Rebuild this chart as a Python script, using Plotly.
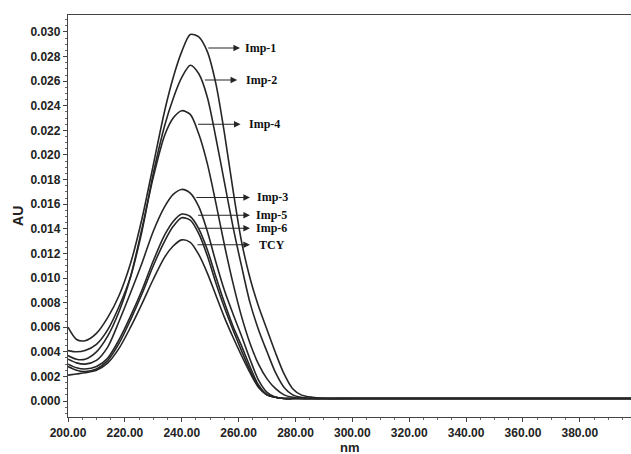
import plotly.graph_objects as go

wavelength = [200, 203, 206, 210, 214, 218, 222, 226, 230, 234, 237, 240, 243, 246, 249,
              252, 255, 258, 261, 264, 267, 270, 273, 276, 279, 282, 286, 290, 300, 400]

imp1 = [0.0060, 0.0050, 0.0049, 0.0055, 0.0068, 0.0086, 0.0112, 0.0148, 0.0192, 0.0236,
        0.0263, 0.0284, 0.0298, 0.0296, 0.0284, 0.0258, 0.0218, 0.0172, 0.0130, 0.0100,
        0.0077, 0.0058, 0.0039, 0.0022, 0.0010, 0.0005, 0.0003, 0.0002, 0.0002, 0.0002]
imp2 = [0.0041, 0.0040, 0.0041, 0.0046, 0.0058, 0.0077, 0.0101, 0.0138, 0.0185, 0.0224,
        0.0246, 0.0263, 0.0273, 0.0266, 0.0247, 0.0214, 0.0178, 0.0142, 0.0110, 0.0080,
        0.0058, 0.0040, 0.0023, 0.0011, 0.0005, 0.0003, 0.0002, 0.0002, 0.0002, 0.0002]
imp4 = [0.0037, 0.0034, 0.0034, 0.0040, 0.0053, 0.0073, 0.0101, 0.0140, 0.0182, 0.0216,
        0.0230, 0.0236, 0.0233, 0.0217, 0.0193, 0.0161, 0.0127, 0.0096, 0.0069, 0.0047,
        0.0030, 0.0018, 0.0010, 0.0005, 0.0003, 0.0002, 0.0002, 0.0002, 0.0002, 0.0002]
imp3 = [0.0034, 0.0031, 0.0030, 0.0033, 0.0044, 0.0065, 0.0088, 0.0112, 0.0138, 0.0158,
        0.0168, 0.0172, 0.0169, 0.0158, 0.0138, 0.0113, 0.0090, 0.0071, 0.0053, 0.0034,
        0.0017, 0.0007, 0.0003, 0.0002, 0.0002, 0.0002, 0.0002, 0.0002, 0.0002, 0.0002]
imp5 = [0.0030, 0.0027, 0.0026, 0.0028, 0.0035, 0.0050, 0.0069, 0.0090, 0.0114, 0.0135,
        0.0146, 0.0152, 0.0150, 0.0140, 0.0123, 0.0101, 0.0080, 0.0061, 0.0045, 0.0028,
        0.0013, 0.0005, 0.0003, 0.0002, 0.0002, 0.0002, 0.0002, 0.0002, 0.0002, 0.0002]
imp6 = [0.0028, 0.0025, 0.0024, 0.0026, 0.0033, 0.0047, 0.0066, 0.0087, 0.0110, 0.0130,
        0.0142, 0.0149, 0.0147, 0.0136, 0.0118, 0.0096, 0.0076, 0.0058, 0.0041, 0.0025,
        0.0012, 0.0005, 0.0003, 0.0002, 0.0002, 0.0002, 0.0002, 0.0002, 0.0002, 0.0002]
tcy = [0.0021, 0.0022, 0.0023, 0.0025, 0.0031, 0.0043, 0.0060, 0.0079, 0.0099, 0.0117,
       0.0126, 0.0131, 0.0129, 0.0119, 0.0104, 0.0086, 0.0068, 0.0052, 0.0037, 0.0023,
       0.0011, 0.0005, 0.0003, 0.0002, 0.0002, 0.0002, 0.0002, 0.0002, 0.0002, 0.0002]

series_names = ["Imp-1", "Imp-2", "Imp-4", "Imp-3", "Imp-5", "Imp-6", "TCY"]
series_values = [imp1, imp2, imp4, imp3, imp5, imp6, tcy]

x_ticks = [200, 220, 240, 260, 280, 300, 320, 340, 360, 380]
y_ticks = [0.000, 0.002, 0.004, 0.006, 0.008, 0.010, 0.012, 0.014, 0.016,
           0.018, 0.020, 0.022, 0.024, 0.026, 0.028, 0.030]

LINE = "#262626"

fig = go.Figure()
for name, vals in zip(series_names, series_values):
    fig.add_trace(go.Scatter(x=wavelength, y=vals, mode="lines", name=name,
                             line=dict(color=LINE, width=1.6, shape="spline", smoothing=0.8),
                             hoverinfo="skip"))

# Label arrows: (label, level, arrow tail, arrow head, text start)
labels = [
    ("Imp-1", 0.0287, 248.8, 260.5, 261.6),
    ("Imp-2", 0.0261, 247.6, 259.5, 261.9),
    ("Imp-4", 0.0225, 245.2, 260.7, 262.9),
    ("Imp-3", 0.01655, 244.6, 264.0, 265.8),
    ("Imp-5", 0.0151, 245.2, 264.0, 265.5),
    ("Imp-6", 0.01405, 245.2, 264.0, 265.5),
    ("TCY", 0.0127, 245.0, 264.0, 266.5),
]
for text, yv, tail, head, tx in labels:
    fig.add_annotation(x=head, y=yv, ax=tail, ay=yv, xref="x", yref="y",
                       axref="x", ayref="y", text="", showarrow=True,
                       arrowhead=2, arrowsize=1.2, arrowwidth=1.1, arrowcolor=LINE)
    fig.add_annotation(x=tx, y=yv, xref="x", yref="y", text="<b>%s</b>" % text,
                       showarrow=False, xanchor="left", yanchor="middle",
                       font=dict(family="Liberation Serif, Times New Roman, serif",
                                 size=12, color="#111"))

title_font = dict(family="Liberation Sans, Arial, sans-serif", size=13, color="#222")
# axis titles placed as paper-anchored texts
fig.add_annotation(x=0.5, y=-0.075, xref="paper", yref="paper", text="<b>nm</b>",
                   showarrow=False, xanchor="center", yanchor="middle", font=title_font)
fig.add_annotation(x=-0.089, y=0.5, xref="paper", yref="paper", text="<b>AU</b>",
                   showarrow=False, xanchor="center", yanchor="middle", textangle=-90,
                   font=dict(family="Liberation Sans, Arial, sans-serif", size=14, color="#222"))

fig.update_layout(
    width=631, height=454,
    margin=dict(l=68, r=0, t=15, b=37, pad=0, autoexpand=False),
    plot_bgcolor="white", paper_bgcolor="white",
    showlegend=False,
    font=dict(family="Liberation Sans, Arial, sans-serif", size=12, color="#222"),
)
fig.update_xaxes(
    range=[200, 398], tickmode="array", tickvals=x_ticks,
    ticktext=["<b>%.2f</b>" % v for v in x_ticks],
    ticks="outside", ticklen=4, tickcolor="#444", tickwidth=1,
    showline=True, linecolor="#444", linewidth=1.3, mirror=True,
    showgrid=False, zeroline=False, automargin=False,
    minor=dict(tick0=200, dtick=5, ticks="outside", ticklen=2, tickcolor="#666", showgrid=False),
)
fig.update_yaxes(
    range=[-0.0013, 0.03138], tickmode="array", tickvals=y_ticks,
    ticktext=["<b>%.3f</b>" % v for v in y_ticks],
    ticks="outside", ticklen=4, tickcolor="#444", tickwidth=1,
    showline=True, linecolor="#444", linewidth=1.3, mirror=False,
    showgrid=False, zeroline=False, automargin=False,
    minor=dict(tick0=0, dtick=0.0005, ticks="outside", ticklen=2, tickcolor="#666", showgrid=False),
)

fig.write_html("out.html", config={"displayModeBar": False},
               post_script="document.body.style.margin='0';document.body.style.overflow='hidden';")
